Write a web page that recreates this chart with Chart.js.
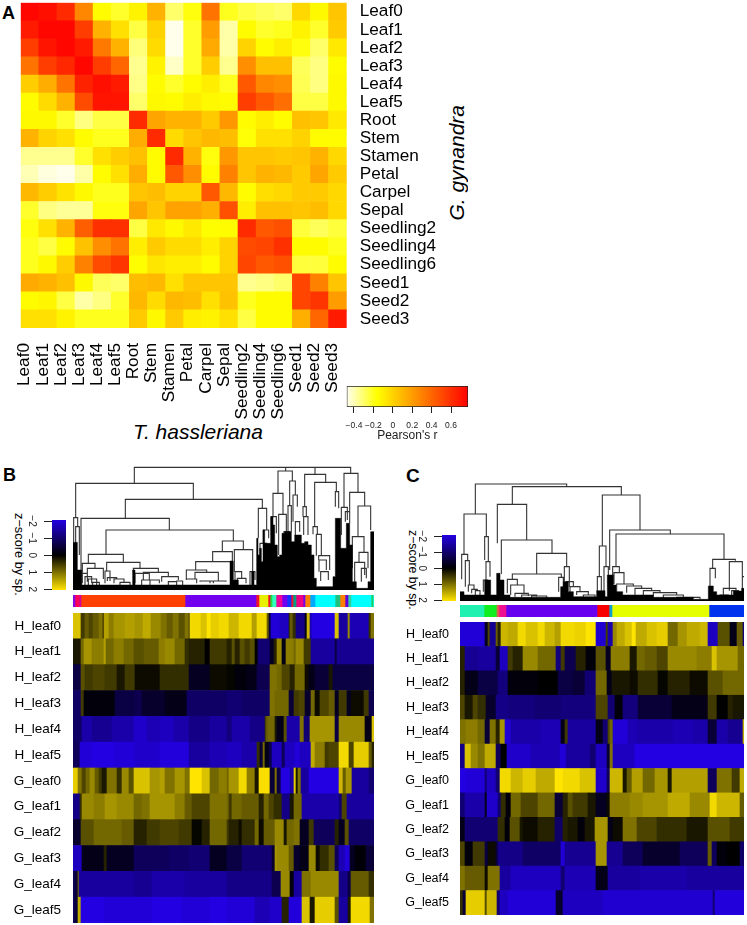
<!DOCTYPE html>
<html>
<head>
<meta charset="utf-8">
<title>Leaf expression heatmaps</title>
<script src="https://cdn.jsdelivr.net/npm/chart.js@4"></script>
<style>
  html, body { margin: 0; padding: 0; background: #fff; }
  body { position: relative; width: 747px; height: 925px; overflow: hidden; font-family: "Liberation Sans", sans-serif; color: #000; }
  canvas { position: absolute; filter: blur(.35px); }
  .txt { position: absolute; white-space: nowrap; line-height: 1; }
  .down { writing-mode: vertical-rl; }
  .up { writing-mode: vertical-rl; transform: rotate(180deg); }
</style>
</head>
<body>
<div class="txt" style="left:2px;top:4px;font-size:18px;font-weight:bold">A</div>
<div class="txt" style="left:3px;top:466px;font-size:18px;font-weight:bold">B</div>
<div class="txt" style="left:406px;top:466px;font-size:19px;font-weight:bold">C</div>
<div class="txt" style="left:133px;top:421px;font-size:21px;font-style:italic">T. hassleriana</div>
<div class="txt up" style="left:446px;top:105px;font-size:21px;font-style:italic">G. gynandra</div>
<div class="txt down" style="left:12px;top:513px;font-size:12.8px">z−score by sp.</div>
<div class="txt down" style="left:407px;top:530px;font-size:12.3px">z−score by sp.</div>
<script>
// panel A: correlation between tissues
const tissues = ['Leaf0','Leaf1','Leaf2','Leaf3','Leaf4','Leaf5','Root','Stem','Stamen','Petal','Carpel','Sepal','Seedling2','Seedling4','Seedling6','Seed1','Seed2','Seed3'];
const corr = [
  [.75,.72,.62,.28,-.15,-.22,-.12,.12,-.3,-.18,.35,-.2,-.25,-.28,-.3,-.02,-.14,.05],
  [.68,.75,.75,.55,.12,-.05,-.25,0,-.47,-.22,.2,-.38,-.15,-.22,-.2,-.12,-.22,.03],
  [.55,.7,.75,.68,.33,.12,-.32,-.03,-.47,-.22,.15,-.38,0,-.15,-.1,-.18,-.3,-.08],
  [.35,.55,.63,.75,.55,.4,-.35,-.12,-.42,-.22,.02,-.35,.25,.07,.07,-.28,-.33,-.15],
  [.02,.14,.35,.65,.72,.68,-.34,-.15,-.22,-.15,-.1,-.2,.45,.28,.25,-.27,-.33,-.14],
  [-.15,-.03,.12,.5,.7,.7,-.3,-.14,-.15,-.1,-.14,-.15,.55,.45,.37,-.25,-.25,-.14],
  [-.14,-.14,-.22,-.33,-.25,-.25,.62,.17,.12,.12,.03,.22,-.15,-.1,-.15,.07,.05,-.08],
  [.12,0,-.05,-.15,-.2,-.2,.14,.62,-.03,.05,.1,.08,-.17,-.05,-.05,0,-.15,-.15],
  [-.35,-.35,-.35,-.22,-.05,.02,.07,-.15,.62,.12,-.18,.22,.05,.05,.03,.05,.12,-.02],
  [-.4,-.45,-.47,-.38,-.15,-.05,.14,-.15,.45,.25,-.15,.3,.05,.12,.1,.03,.17,.03],
  [.1,.02,-.06,-.14,-.2,-.2,.05,.08,0,0,.45,.1,-.15,-.04,-.02,.03,.03,-.02],
  [-.22,-.33,-.36,-.36,-.18,-.18,.17,.05,.18,.18,.13,.48,-.1,.07,.07,.05,.08,-.02],
  [-.18,-.05,.12,.43,.6,.6,-.25,-.08,-.14,-.08,-.16,-.15,.62,.45,.48,-.24,-.28,-.24],
  [-.2,-.25,-.15,.06,.25,.35,-.1,.03,-.03,-.03,-.1,0,.5,.52,.6,-.15,-.15,-.2],
  [-.2,-.14,.02,.3,.5,.58,-.16,-.07,-.1,-.1,-.15,0,.52,.45,.48,-.24,-.24,-.15],
  [.15,.12,.07,-.14,-.28,-.3,.08,.1,-.05,.05,.05,.05,-.35,-.33,-.3,.52,.3,.05],
  [-.15,-.13,-.25,-.38,-.33,-.22,.1,-.03,.1,.08,-.05,.06,-.2,-.15,-.15,.52,.58,.2],
  [-.05,-.05,-.12,-.2,-.2,-.2,.03,-.14,.03,-.1,-.12,-.05,-.25,-.15,-.15,.13,.4,.68]
];
const pearsonRange = [-0.475, 0.775];
const pearsonTicks = [-0.4, -0.2, 0, 0.2, 0.4, 0.6];
const zRangeB = [-2.06, 2.04];
const zRangeC = [-2.08, 2.06];
const zTicks = [-2, -1, 0, 1, 2];

// panels B and C: each row is runs of [last column, z-score]
const rowNames = ['H_leaf0','H_leaf1','H_leaf2','H_leaf3','H_leaf4','H_leaf5','G_leaf0','G_leaf1','G_leaf2','G_leaf3','G_leaf4','G_leaf5'];

const B_H_leaf0 = [[8,1.7],[12,.5],[16,.8],[20,.6],[26,.8],[30,1],[31,.3],[36,1.4],[41,1.1],[52,1.3],[62,1.4],[70,1.3],[78,1.5],[88,1.2],[94,1],[100,.8],[106,1],[112,.7],[116,1],[117,.5],[128,1.9],[134,1.7],[138,2],[146,1.8],[156,1.9],[166,1.6],[179,1.9],[184,1.4],[194,1.9],[196,.8],[198,-.5],[207,-1.9],[216,-1.7],[217,.3],[220,.8],[223,.4],[232,-1.2],[234,-.2],[237,1.6],[239,-1.6],[262,-2],[266,1.7],[275,-1.4],[277,1.2],[296,-1.6],[298,.4],[301,1]];
const B_H_leaf1 = [[8,.2],[11,.9],[19,1.3],[31,1.1],[33,1.4],[41,.9],[51,1.1],[61,.9],[71,.7],[86,.8],[92,1.1],[102,1.2],[112,.9],[116,.4],[132,.3],[137,0],[154,.5],[159,.3],[162,.7],[167,.3],[172,.7],[177,.5],[182,.7],[185,0],[197,-1],[201,-.3],[204,.3],[209,1.2],[213,-.2],[221,1.1],[223,.9],[231,1.2],[238,.5],[262,-1.4],[264,-.6],[301,-1.3]];
const B_H_leaf2 = [[8,-.6],[12,.7],[20,.5],[32,.6],[44,.5],[52,.2],[62,.5],[74,.1],[87,.1],[104,.4],[116,.4],[137,-.3],[154,.1],[162,.05],[174,-.1],[184,-.2],[197,-.7],[204,1],[209,.9],[217,.6],[222,.3],[232,.9],[236,.1],[242,-.2],[256,-.5],[260,.2],[301,-.6]];
const B_H_leaf3 = [[8,-.9],[11,.5],[42,-.1],[62,-.6],[69,-.7],[92,-.4],[114,-.2],[154,-.9],[169,-1],[197,-.9],[202,1],[216,.9],[221,-.5],[226,.5],[232,.6],[238,-.4],[242,.9],[247,.1],[256,.6],[262,.8],[266,-.3],[274,.5],[278,-.3],[291,.1],[296,.5],[301,-.7]];
const B_H_leaf4 = [[9,-.9],[19,-1.5],[39,-1.3],[61,-1.5],[74,-1.8],[87,-1.6],[101,-1.7],[116,-1.5],[137,-1.2],[154,-1.4],[159,-1.1],[177,-1.5],[192,-1.2],[193,.4],[195,.8],[202,.9],[204,.2],[211,-.2],[214,.7],[227,-1.5],[231,1],[237,-1],[262,1.3],[266,-.6],[292,1.2],[299,-.2],[301,1.7]];
const B_H_leaf5 = [[7,-.8],[19,-1.9],[41,-2],[62,-1.9],[87,-1.8],[116,-1.95],[137,-1.4],[154,-1.6],[169,-1.7],[184,-1.5],[187,.4],[190,-.5],[192,.9],[196,-.2],[199,-.6],[209,-1.7],[212,-.8],[222,-1.7],[227,-1.9],[238,-1.7],[242,1.5],[252,1.1],[256,.5],[266,.6],[276,1.9],[281,.6],[296,1.8],[299,.8],[301,.3]];
const B_G_leaf0 = [[5,1.8],[9,1],[13,.6],[17,.9],[22,1.2],[26,.8],[29,.5],[34,.2],[44,1],[49,.4],[56,1.2],[61,.7],[77,1.7],[87,1.3],[92,1.4],[102,1],[112,1.3],[117,1],[129,2],[137,1.7],[146,.9],[154,1.1],[156,.9],[166,1.3],[174,1.9],[182,1.1],[186,.2],[197,1.95],[202,-.5],[204,1],[208,-.6],[217,-2],[221,-1.5],[223,1.8],[225,.2],[228,1],[236,-1.4],[266,-2],[270,1.6],[273,.8],[279,1.3],[296,-1.4],[301,-1]];
const B_G_leaf1 = [[7,-1.2],[9,.4],[21,1.2],[32,1.1],[44,1.3],[61,1.2],[69,.9],[77,1],[87,1.3],[102,1.3],[112,1.1],[119,.8],[137,.6],[154,1],[156,.9],[159,.5],[169,.9],[186,.8],[191,.3],[196,.9],[201,.6],[209,.4],[217,-1.2],[221,.2],[229,.9],[266,-1.5],[269,-1],[274,.6],[301,-1.4]];
const B_G_leaf2 = [[8,-.4],[21,.7],[32,.9],[49,.9],[61,.8],[74,.3],[87,.5],[106,.6],[119,.5],[129,.05],[137,.3],[154,.9],[156,.5],[166,.3],[169,.1],[182,.4],[186,.9],[191,.1],[202,.8],[211,1.2],[214,.2],[221,.9],[227,1],[236,-.3],[241,.5],[262,-.8],[266,.3],[272,-.3],[276,.7],[301,-.9]];
const B_G_leaf3 = [[9,-1.7],[31,-.2],[34,.3],[61,-.3],[96,-.8],[116,-.9],[137,-1],[154,-.3],[169,-.6],[199,-1],[202,-.4],[204,1.3],[216,1.2],[221,.8],[227,-.4],[236,-.2],[243,1.2],[247,.1],[256,.4],[262,.7],[266,-.8],[272,-1.6],[277,-1.9],[282,-.3],[293,-.05],[301,-.5]];
const B_G_leaf4 = [[2,-.8],[5,-.5],[6,1],[32,-1.4],[61,-1.4],[79,-1.3],[112,-1.5],[154,-1.4],[199,-1.2],[208,-.7],[217,1.2],[221,-.1],[229,-1.4],[238,1],[266,1.2],[275,-1.2],[278,-.6],[296,.8],[301,.4]];
const B_G_leaf5 = [[2,-.8],[5,-.5],[8,1.5],[31,-2],[62,-1.9],[79,-1.9],[109,-2],[137,-1.9],[154,-2],[182,-1.9],[197,-1.6],[209,-1.8],[216,.3],[229,-1.95],[237,1.7],[242,.2],[262,1.8],[266,.7],[275,-1.4],[278,.2],[297,1.9],[301,1]];
const heatB = [B_H_leaf0,B_H_leaf1,B_H_leaf2,B_H_leaf3,B_H_leaf4,B_H_leaf5,B_G_leaf0,B_G_leaf1,B_G_leaf2,B_G_leaf3,B_G_leaf4,B_G_leaf5];

const C_H_leaf0 = [[25,-1.9],[28,-.3],[30,.6],[36,-1.3],[38,.8],[41,.3],[48,1.6],[58,1.5],[66,1.9],[78,1.7],[85,1.9],[95,1.6],[101,1.4],[115,1.9],[126,1.85],[136,2],[146,-1.85],[148,.5],[153,-1.5],[157,1.2],[165,1.5],[172,1.7],[176,2],[187,1.5],[197,1.7],[208,1.8],[218,.9],[227,1.3],[240,1.5],[248,1.6],[258,-1.7],[270,.7],[277,-.2],[283,.8],[284,-1]];
const C_H_leaf1 = [[5,.3],[18,-1.3],[36,-1.4],[40,-.5],[48,-1.7],[53,.5],[63,.3],[78,1.2],[96,.9],[101,-1.1],[105,.5],[116,-.7],[126,.3],[136,-.1],[146,.7],[151,-.3],[170,1.1],[177,.2],[185,.9],[197,.8],[208,.6],[237,1.2],[252,1.1],[257,1.7],[278,1.3],[284,.9]];
const C_H_leaf2 = [[5,.3],[18,-.2],[38,-.6],[48,-1.1],[78,-.1],[98,0],[113,-.6],[125,-.5],[136,-1],[147,.9],[152,-.2],[170,.2],[178,.1],[198,.4],[208,.05],[230,.3],[248,.1],[263,.7],[284,.9]];
const C_H_leaf3 = [[5,.6],[13,.2],[18,.6],[26,.4],[36,-.4],[48,-1.2],[75,-1.1],[101,-1],[136,-1.1],[148,.6],[155,-1],[163,-.1],[178,-1.1],[212,-.5],[248,-.2],[257,.5],[268,0],[273,.3],[284,.2]];
const C_H_leaf4 = [[6,1],[18,1.1],[25,.9],[30,-.5],[36,1],[40,.3],[45,1.3],[51,-1.9],[81,-1.5],[101,-1.6],[105,-.2],[108,.5],[136,-1.4],[143,-.2],[148,-1],[150,.6],[153,.9],[168,-1.9],[177,-1.6],[213,-1.5],[233,-1.6],[248,-1.5],[257,-.5],[268,-1.5],[283,-1.3],[284,1.5]];
const C_H_leaf5 = [[5,-1.2],[11,1.7],[18,1.2],[25,1],[36,1.5],[41,-.8],[47,0],[71,-1.8],[100,-1.6],[106,-1.9],[130,-1.4],[136,-1],[147,-1.7],[150,-.5],[153,1],[170,-1.7],[175,-1.7],[255,-2],[284,-2]];
const C_G_leaf0 = [[6,-2],[25,-1.9],[27,-1],[36,-1.7],[40,-1],[51,1.9],[63,1.6],[76,1.8],[95,1.5],[103,2.1],[120,1.9],[136,1.7],[147,-1.8],[150,-.8],[163,1.6],[167,.2],[172,.8],[183,1.4],[195,.9],[208,1.3],[212,.2],[248,1.4],[257,-.8],[272,1],[280,.5],[284,1.5]];
const C_G_leaf1 = [[5,-1],[25,-1.5],[27,-.2],[38,-1.8],[41,-1],[46,.4],[51,-.1],[61,.9],[78,.6],[95,.9],[103,-.5],[108,.3],[113,.7],[128,.5],[136,.2],[147,-.3],[150,.1],[170,1.1],[183,1.2],[208,1.3],[230,1.5],[250,1.2],[257,1.9],[280,1.6],[284,.8]];
const C_G_leaf2 = [[5,-.2],[38,-1],[45,.4],[50,-.1],[60,.7],[63,.2],[78,.1],[95,.3],[103,-.9],[108,.3],[118,.2],[125,-.1],[135,.2],[148,1.3],[153,-.2],[163,.1],[177,1],[197,.6],[227,.4],[248,.2],[270,.7],[284,.5]];
const C_G_leaf3 = [[5,.6],[13,-.1],[25,.5],[28,-.6],[36,.1],[38,-.5],[63,-1.2],[101,-.9],[105,-1.9],[136,-1.3],[147,1.3],[163,-1.3],[183,-.8],[220,-.4],[248,-.8],[252,.8],[257,-.8],[267,-.1],[280,0],[284,-.9]];
const C_G_leaf4 = [[5,1],[25,.8],[28,.1],[40,1],[51,-1.4],[101,-1.7],[105,-1],[136,-1.6],[148,-.2],[180,-1.4],[227,-1.5],[255,-1.4],[284,-1.4]];
const C_G_leaf5 = [[3,.4],[6,-.5],[25,1.8],[27,.7],[37,1.6],[40,-1],[48,-1.7],[96,-1.9],[103,-.4],[143,-1.7],[253,-1.85],[255,-1],[284,-1.95]];
const heatC = [C_H_leaf0,C_H_leaf1,C_H_leaf2,C_H_leaf3,C_H_leaf4,C_H_leaf5,C_G_leaf0,C_G_leaf1,C_G_leaf2,C_G_leaf3,C_G_leaf4,C_G_leaf5];

// module colour strips
const stripB_ends = [2,6,8,112,183,186,195,197,199,203,209,214,218,220,223,230,232,237,242,262,267,272,275,278,298,300,301];
const stripB_cols = ['#8800dd','#ff0055','#d000a0','#ff4000','#7000ee','#f01030','#e8f000','#f01030','#20e040','#30ffc0','#ee0099','#7000ee','#1133ff','#f01030','#00a080','#ee0080','#7000ee','#ff8000','#00aaff','#00ffff','#20c080','#ff8000','#6000dd','#30d0a0','#00ffff','#20d060','#00ffff'];
const stripC_ends = [24,36,37,39,46,137,149,152,249,284];
const stripC_cols = ['#20f0b0','#10ee20','#80a040','#f05050','#ee1090','#6600ee','#f80000','#10a0d0','#e6ff00','#0033ee'];

// dendrograms: merges are [x left, y left, x right, y right, y of the bar]
const treeB = [
  [403,85,857,48,37],[857,48,945,58,37],[945,58,1052,55,37],
  [227,188,580,133,85],[221,262,233,215,188],[227,262,238,300,215],
  [376,190,787,160,133],[243,395,508,225,190],[318,298,700,258,225],[667,290,730,284,258],
  [638,320,697,320,290],[703,350,758,350,284],[587,345,692,345,320],[559,375,620,352,345],[585,372,655,378,352],
  [559,375,590,385,372],[600,380,640,385,378],[630,385,678,380,378],[705,375,725,370,350],[712,390,738,385,370],[750,390,765,375,350],
  [265,325,370,322,298],[247,355,285,340,325],[262,365,310,372,340],[247,385,262,380,355],[255,390,275,385,365],[265,395,290,392,372],[278,398,298,395,382],
  [320,350,420,340,322],[315,385,330,378,348],[322,378,350,372,368],[342,385,372,382,372],[360,392,390,390,382],
  [400,355,475,352,340],[405,385,448,375,355],[425,390,450,388,375],[430,375,505,365,352],[450,392,478,385,375],[485,380,535,375,365],[505,392,530,390,380],[530,395,548,392,378],
  [834,115,877,78,48],[819,185,849,178,115],[836,300,859,230,178],[852,300,869,290,230],[869,152,886,120,78],[864,230,874,230,152],
  [879,200,892,155,120],[886,240,899,230,200],[814,240,829,235,185],[775,250,800,225,160],[790,265,806,250,225],[780,330,800,325,265],
  [914,155,977,82,58],[909,185,919,185,155],[911,240,924,240,185],[944,215,1009,110,82],[939,238,952,238,215],[949,302,964,300,238],
  [956,315,989,345,302],[957,350,979,345,315],[962,378,985,375,350],[1006,155,1016,160,110],
  [1032,157,1074,112,55],[1024,240,1042,195,157],[1036,200,1049,195,170],[1049,205,1094,153,112],[1074,245,1112,225,153],
  [1057,340,1092,292,245],[1077,322,1104,340,292],[1064,380,1094,360,322],[1084,380,1099,370,340]
];
const denseB_x = [219,232,245,398,405,690,700,715,755,762,770,774,779,784,789,794,812,819,824,832,839,846,854,864,874,884,892,904,914,924,934,942,949,999,1006,1022,1032,1039,1049,1057,1069,1104,1112,1122];
const denseB_y = [262,345,390,345,390,318,375,390,350,390,250,300,280,320,225,265,185,210,270,305,300,235,230,230,260,240,240,265,260,270,300,370,395,365,190,280,280,205,270,380,400,380,230,230];

const treeC = [
  [226,162,500,80,72],[337,133,664,105,80],
  [192,283,259,230,162],[185,358,203,302,283],[196,380,208,375,302],[205,395,222,388,375],[215,400,232,392,388],[226,405,240,405,392],
  [254,300,265,305,230],[258,360,270,350,305],[250,395,262,390,360],
  [292,250,380,240,133],[304,342,456,280,240],[410,342,500,320,280],[337,358,484,352,342],[322,400,352,375,358],[332,405,372,400,375],
  [345,410,385,408,400],[365,412,410,410,405],[395,416,440,414,408],
  [493,365,508,380,320],[498,390,520,380,365],[510,400,540,395,380],[530,405,565,405,395],[550,412,585,412,405],[476,395,490,385,352],
  [607,258,720,210,105],[598,350,618,320,258],[592,395,604,392,350],[612,395,625,380,320],
  [629,330,811,222,210],[648,320,972,298,222],[638,370,658,338,320],[642,372,672,372,338],
  [650,400,700,378,372],[680,398,725,385,378],[705,405,755,392,385],[730,408,780,398,392],[760,410,830,405,398],[790,415,850,412,405],[830,418,900,418,412],
  [938,325,1006,302,298],[930,380,946,355,325],[988,392,1027,350,305],[1027,395,1032,350,350],[970,408,1008,400,385],[960,412,985,410,405],[995,412,1015,395,392]
];
const denseC_x = [180,192,254,272,290,300,312,330,482,490,505,520,590,615,622,640,648,668,760,880,925,940,950,1000,1025,1032];
const denseC_y = [395,405,360,405,340,360,405,412,380,365,395,410,392,410,345,375,395,405,412,418,378,395,405,393,385,385];

Chart.defaults.font.family = '"Liberation Sans", sans-serif';
Chart.defaults.color = '#000';
Chart.defaults.animation = false;
Chart.defaults.responsive = false;
Chart.defaults.events = [];
Chart.defaults.plugins.legend.display = false;
Chart.defaults.plugins.tooltip.enabled = false;

function addCanvas(left, top, w, h) {
  const c = document.createElement('canvas');
  c.width = w;
  c.height = h;
  c.style.left = left + 'px';
  c.style.top = top + 'px';
  document.body.appendChild(c);
  return c;
}

// fixed axis size, and no extra room for the end labels
function fixSize(s, size) {
  if (s.isHorizontal()) s.height = size; else s.width = size;
  s.paddingTop = s.paddingBottom = s.paddingLeft = s.paddingRight = 0;
}

function heatColor(r) {
  // R's heat.colors: red to yellow, then yellow to white
  const yellowAt = pearsonRange[0] + (pearsonRange[1] - pearsonRange[0]) / 4;
  if (r < yellowAt) {
    const b = Math.min(1, (yellowAt - r) / (yellowAt - pearsonRange[0]));
    return `rgb(255,255,${Math.round(240 * b)})`;
  }
  const g = Math.max(0, (pearsonRange[1] - r) / (pearsonRange[1] - yellowAt));
  return `rgb(255,${Math.round(255 * g)},0)`;
}

function zColor(z) {
  const t = Math.min(1, Math.abs(z) / 2);
  if (z < 0) return `rgb(${Math.round(34 * t)},0,${Math.round(225 * t)})`;
  return `rgb(${Math.round(255 * t)},${Math.round(228 * t)},0)`;
}

// panel A
const cellPoints = [];
const cellColors = [];
corr.forEach((row, i) => row.forEach((r, j) => {
  cellPoints.push({ x: tissues[j], y: [i, i + 1] });
  cellColors.push(heatColor(r));
}));

new Chart(addCanvas(0, 0, 450, 425), {
  type: 'bar',
  data: { labels: tissues, datasets: [{ data: cellPoints, backgroundColor: cellColors, borderWidth: 0, barPercentage: 1, categoryPercentage: 1 }] },
  options: {
    layout: { padding: { left: 20.7, top: 2.7 } },
    scales: {
      x: {
        grid: { display: false, drawTicks: false }, border: { display: false },
        ticks: { autoSkip: false, minRotation: 90, maxRotation: 90, padding: 15, labelOffset: -5, font: { size: 17.2 } },
        afterFit: s => fixSize(s, 97)
      },
      y: { display: false, reverse: true, min: 0, max: 18 },
      y2: {
        type: 'category', labels: tissues, position: 'right', offset: true,
        grid: { display: false, drawTicks: false }, border: { display: false },
        ticks: { autoSkip: false, padding: 13, font: { size: 17.2 } },
        afterFit: s => fixSize(s, 103.3)
      }
    }
  }
});

// colour keys
function gradientFill(chart, range, stops, colorOf, horizontal) {
  const a = chart.chartArea;
  if (!a) return '#000';
  const g = horizontal ? chart.ctx.createLinearGradient(a.left, 0, a.right, 0) : chart.ctx.createLinearGradient(0, a.top, 0, a.bottom);
  stops.forEach(v => g.addColorStop((v - range[0]) / (range[1] - range[0]), colorOf(v)));
  return g;
}

new Chart(addCanvas(335, 380, 145, 65), {
  type: 'bar',
  data: { labels: ['r'], datasets: [{
    data: [pearsonRange],
    backgroundColor: c => gradientFill(c.chart, pearsonRange, [pearsonRange[0], -0.1625, pearsonRange[1]], heatColor, true),
    borderColor: '#222', borderWidth: 1, borderSkipped: false, barPercentage: 1, categoryPercentage: 1
  }] },
  options: {
    indexAxis: 'y',
    layout: { padding: { left: 11.7, right: 12, top: 6 } },
    scales: {
      x: {
        min: pearsonRange[0], max: pearsonRange[1],
        afterBuildTicks: s => { s.ticks = pearsonTicks.map(v => ({ value: v })); },
        grid: { drawOnChartArea: false, tickLength: 6, color: '#222' }, border: { display: false },
        ticks: { autoSkip: false, maxRotation: 0, padding: 8, font: { size: 8.5 }, color: '#222', callback: v => v === 0 ? '0' : String(v).replace('-', '−') },
        title: { display: true, text: "Pearson's r", font: { size: 12 }, color: '#222', padding: { top: 0, bottom: 2 } },
        afterFit: s => fixSize(s, 38)
      },
      y: { display: false }
    }
  }
});

function zKey(left, top, w, h, range, pad, size) {
  new Chart(addCanvas(left, top, w, h), {
    type: 'bar',
    data: { labels: ['z'], datasets: [{
      data: [range],
      backgroundColor: c => gradientFill(c.chart, range, [range[0], 0, range[1]], zColor, false),
      barPercentage: 1, categoryPercentage: 1, borderWidth: 0
    }] },
    options: {
      layout: { padding: { top: pad, bottom: pad } },
      scales: {
        x: { display: false },
        y: {
          reverse: true, min: range[0], max: range[1],
          afterBuildTicks: s => { s.ticks = zTicks.map(v => ({ value: v })); },
          grid: { drawOnChartArea: false, tickLength: 8, color: '#222' }, border: { display: false },
          ticks: { autoSkip: false, minRotation: 270, maxRotation: 270, crossAlign: 'center', padding: 7, font: { size: size }, color: '#222', callback: v => String(v).replace('-', '−') },
          afterFit: s => fixSize(s, w - 14)
        }
      }
    }
  });
}
zKey(24, 515, 42, 80, zRangeB, 5, 10);
zKey(415, 530, 41, 76, zRangeC, 5, 10);

// dendrograms
function treePath(merges) {
  const pts = [];
  merges.forEach(([xl, yl, xr, yr, top]) => {
    pts.push({ x: xl, y: yl }, { x: xl, y: top }, { x: xr, y: top }, { x: xr, y: yr }, { x: null, y: null });
  });
  return pts;
}

function drawTree(left, top, w, h, xRange, yRange, merges, denseX, denseY) {
  new Chart(addCanvas(left, top, w, h), {
    type: 'line',
    data: { datasets: [
      { data: denseX.map((x, i) => ({ x, y: denseY[i] })), stepped: true, fill: { value: yRange[1] }, backgroundColor: '#000', borderColor: '#000', borderWidth: 0.5, pointRadius: 0 },
      { data: treePath(merges), borderColor: '#333', borderWidth: 1.1, pointRadius: 0, spanGaps: false, tension: 0 }
    ] },
    options: {
      scales: {
        x: { type: 'linear', display: false, min: xRange[0], max: xRange[1] },
        y: { type: 'linear', display: false, reverse: true, min: yRange[0], max: yRange[1] }
      }
    }
  });
}
drawTree(73, 466, 301, 124, [219, 1122], [33, 405], treeB, denseB_x, denseB_y);
drawTree(460, 482, 284, 119, [180, 1032], [66, 423], treeC, denseC_x, denseC_y);

// a strip has one category, so each run goes in as its own dataset
function drawStrip(left, top, w, h, ends, cols) {
  let from = 0;
  const datasets = ends.map((e, i) => {
    const d = { data: [[from, e]], backgroundColor: cols[i], borderWidth: 0, barPercentage: 1, categoryPercentage: 1, grouped: false };
    from = e;
    return d;
  });
  new Chart(addCanvas(left, top, w, h), {
    type: 'bar',
    data: { labels: ['module'], datasets },
    options: {
      indexAxis: 'y',
      scales: {
        x: { display: false, min: 0, max: ends[ends.length - 1] },
        y: { display: false }
      }
    }
  });
}
drawStrip(73, 595, 301, 12, stripB_ends, stripB_cols);
drawStrip(460, 605, 284, 12, stripC_ends, stripC_cols);

// heatmap rows are floating horizontal bars over a column axis
function drawHeat(top, h, areaLeft, areaWidth, rows, fontSize, pad) {
  const points = [];
  const colors = [];
  rows.forEach((runs, i) => {
    let from = 0;
    runs.forEach(([end, z]) => {
      points.push({ x: [from, end], y: rowNames[i] });
      colors.push(zColor(z));
      from = end;
    });
  });
  const last = rows[0][rows[0].length - 1][0];
  new Chart(addCanvas(0, top, areaLeft + areaWidth, h), {
    type: 'bar',
    data: { labels: rowNames, datasets: [{ data: points, backgroundColor: colors, borderWidth: 0, barPercentage: 1, categoryPercentage: 1 }] },
    options: {
      indexAxis: 'y',
      scales: {
        x: { display: false, min: 0, max: last },
        y: {
          grid: { display: false, drawTicks: false }, border: { display: false },
          ticks: { autoSkip: false, padding: pad, font: { size: fontSize } },
          afterFit: s => fixSize(s, areaLeft)
        }
      }
    }
  });
}
drawHeat(613, 310, 73, 301, heatB, 13.5, 12);
drawHeat(622, 293, 460, 284, heatC, 12.5, 11);
</script>
</body>
</html>
